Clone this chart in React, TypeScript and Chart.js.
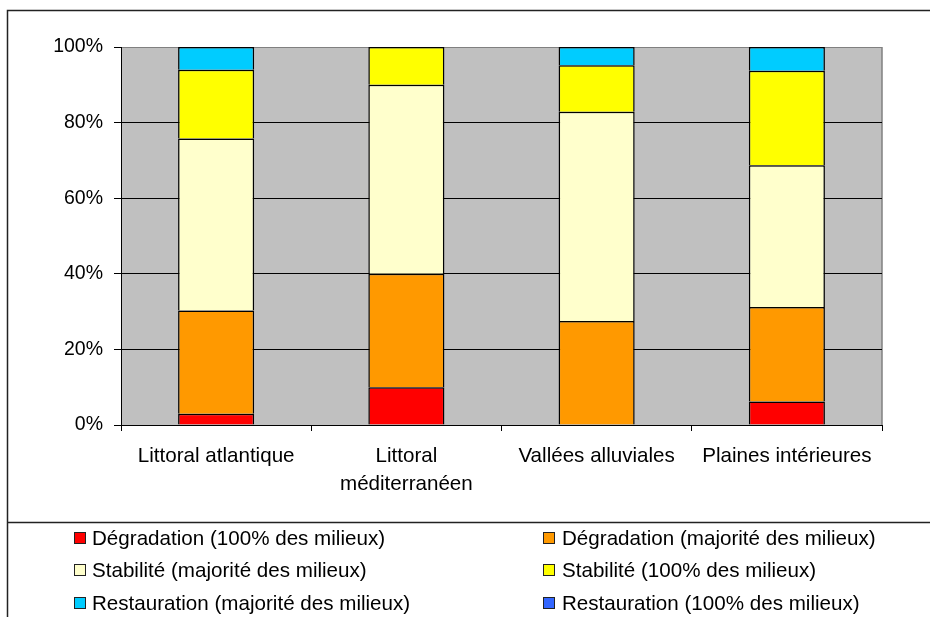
import React, { useEffect, useRef } from "react";
import { Chart, registerables } from "chart.js";

Chart.register(...registerables);

const categories: (string | string[])[] = [
  "Littoral atlantique",
  ["Littoral", "méditerranéen"],
  "Vallées alluviales",
  "Plaines intérieures",
];

const seriesLabels = [
  "Dégradation (100% des milieux)",
  "Dégradation (majorité des milieux)",
  "Stabilité (majorité des milieux)",
  "Stabilité (100% des milieux)",
  "Restauration (majorité des milieux)",
  "Restauration (100% des milieux)",
];

const seriesColors = ["#FF0000", "#FF9900", "#FFFFCC", "#FFFF00", "#00CCFF", "#3366FF"];

const degradation100 = [3.0, 10.0, 0, 6.25];
const degradationMaj = [27.3, 30.0, 27.5, 25.0];
const stabiliteMaj = [45.5, 50.0, 55.4, 37.5];
const stabilite100 = [18.2, 10.0, 12.3, 25.0];
const restaurationMaj = [6.0, 0, 4.8, 6.25];
const restauration100 = [0, 0, 0, 0];

const seriesValues = [
  degradation100,
  degradationMaj,
  stabiliteMaj,
  stabilite100,
  restaurationMaj,
  restauration100,
];

const yTicks = [0, 20, 40, 60, 80, 100];

const FONT = "'Liberation Sans', Arial, sans-serif";

// legend layout order (row-major, 2 columns)
const legendOrder = [0, 1, 2, 3, 4, 5];

export default function App() {
  const ref = useRef<HTMLCanvasElement | null>(null);

  useEffect(() => {
    if (!ref.current) return;
    const framePlugin = {
      id: "frameAndBg",
      beforeDraw(chart: any) {
        const { ctx, chartArea } = chart;
        ctx.save();
        // outer frame
        ctx.strokeStyle = "#222";
        ctx.lineWidth = 1.5;
        ctx.beginPath();
        ctx.moveTo(7.5, 640);
        ctx.lineTo(7.5, 10.5);
        ctx.lineTo(940, 10.5);
        ctx.moveTo(7.5, 522.5);
        ctx.lineTo(940, 522.5);
        ctx.stroke();
        // plot background
        ctx.fillStyle = "#C0C0C0";
        ctx.fillRect(chartArea.left, chartArea.top, chartArea.right - chartArea.left, chartArea.bottom - chartArea.top);
        ctx.strokeStyle = "#808080";
        ctx.lineWidth = 1.5;
        ctx.beginPath();
        ctx.moveTo(chartArea.right, chartArea.top);
        ctx.lineTo(chartArea.right, chartArea.bottom);
        ctx.stroke();
        ctx.restore();
      },
    };

    const chart = new Chart(ref.current, {
      type: "bar",
      data: {
        labels: categories,
        datasets: seriesValues.map((vals, i) => ({
          label: seriesLabels[i],
          data: vals,
          backgroundColor: seriesColors[i],
          borderColor: "#000",
          borderWidth: 1.5,
          categoryPercentage: 1,
          barPercentage: 0.4,
        })),
      },
      options: {
        responsive: false,
        animation: false,
        layout: { padding: { left: 0, right: 48, top: 47, bottom: 0 } },
        plugins: {
          legend: { display: false },
          tooltip: { enabled: false },
          title: { display: false },
        },
        scales: {
          x: {
            stacked: true,
            offset: true,
            afterFit(scale: any) {
              scale.height = 192;
            },
            grid: {
              display: true,
              drawOnChartArea: false,
              drawTicks: true,
              tickLength: 6,
              color: "#000",
              offset: true,
            },
            border: { display: true, color: "#000", width: 1 },
            ticks: {
              autoSkip: false,
              maxRotation: 0,
              minRotation: 0,
              padding: 12,
              color: "#000",
              font: { family: FONT, size: 20.6, lineHeight: 1.34 },
            },
          },
          y: {
            stacked: true,
            min: 0,
            max: 100,
            afterFit(scale: any) {
              scale.width = 121;
            },
            afterBuildTicks(scale: any) {
              scale.ticks = yTicks.map((v) => ({ value: v }));
            },
            grid: {
              color: (c: any) => (c.tick && c.tick.value === 100 ? "#808080" : "#000"),
              tickColor: "#000",
              tickLength: 7,
              lineWidth: 1,
            },
            border: { display: true, color: "#000", width: 1 },
            ticks: {
              padding: 11,
              color: "#000",
              font: { family: FONT, size: 19.5 },
              callback: (v: any) => v + "%",
            },
          },
        },
      },
      plugins: [framePlugin],
    });
    return () => chart.destroy();
  }, []);

  const legendRows = [0, 1, 2];
  const rowY = [538, 570, 603];
  const colSquareX = [74, 543];
  const colTextX = [92, 562];

  return (
    <div style={{ position: "absolute", left: 0, top: 0, width: 930, height: 617, overflow: "hidden", background: "#fff" }}>
      <canvas ref={ref} width={930} height={617} style={{ position: "absolute", left: 0, top: 0, width: 930, height: 617 }} />
      {legendOrder.map((si, k) => {
        const row = legendRows[Math.floor(k / 2)];
        const col = k % 2;
        const y = rowY[row];
        return (
          <React.Fragment key={si}>
            <div
              style={{
                position: "absolute",
                left: colSquareX[col],
                top: y - 6,
                width: 10,
                height: 10,
                background: seriesColors[si],
                border: "1px solid #222",
              }}
            />
            <div
              style={{
                position: "absolute",
                left: colTextX[col],
                top: y - 12,
                height: 24,
                lineHeight: "24px",
                fontFamily: FONT,
                fontSize: 20.6,
                color: "#000",
                whiteSpace: "nowrap",
              }}
            >
              {seriesLabels[si]}
            </div>
          </React.Fragment>
        );
      })}
    </div>
  );
}
